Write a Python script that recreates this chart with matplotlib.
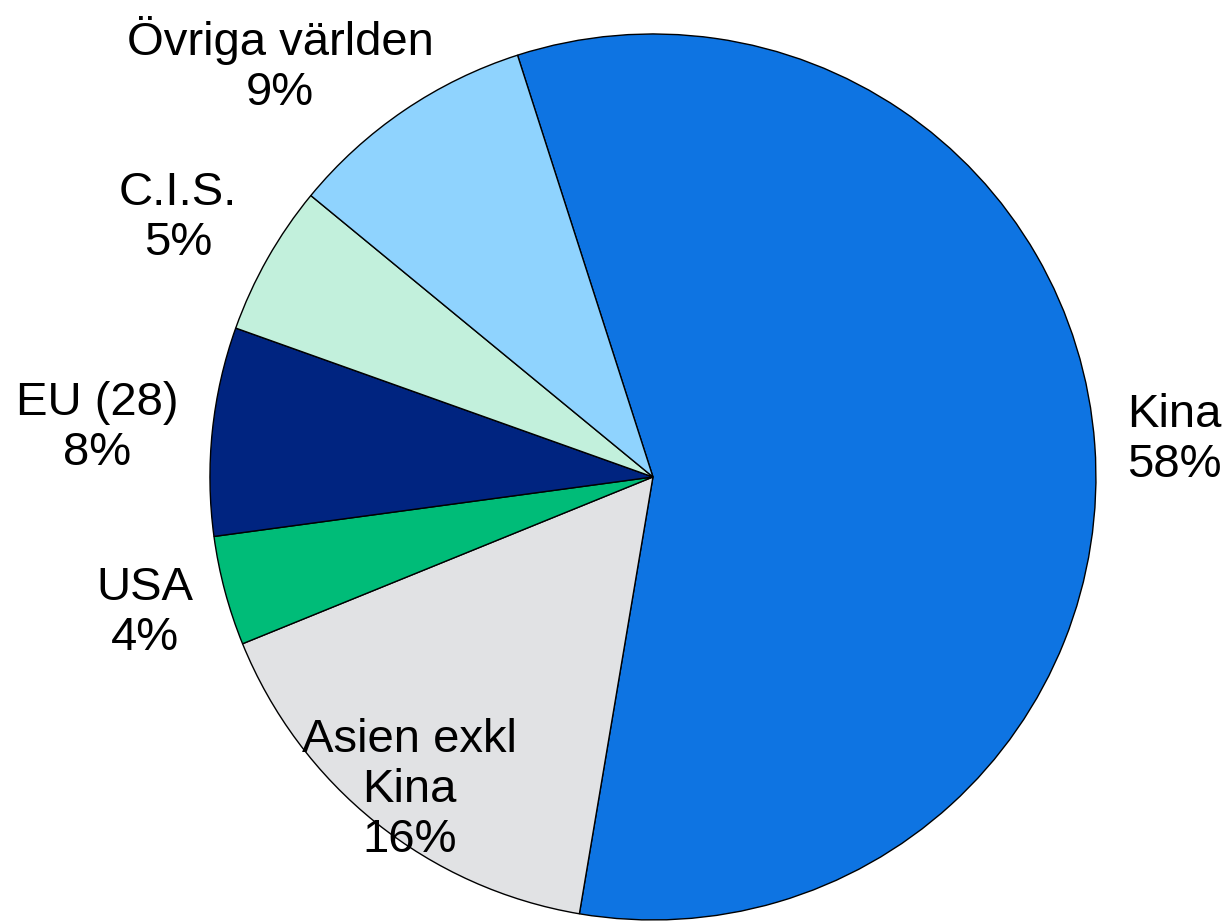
import matplotlib
matplotlib.use("Agg")
from matplotlib import pyplot as plt

plt.rcParams['font.family'] = ['Liberation Sans', 'DejaVu Sans']

# data (order: clockwise from the top)
regions = ["Kina", "Asien exkl\nKina", "USA", "EU (28)", "C.I.S.", "Övriga världen"]
shares = [57.6, 16.2, 4.0, 7.6, 5.5, 9.1]
shown_pct = ["58%", "16%", "4%", "8%", "5%", "9%"]
colors = ["#0E74E2", "#E1E2E4", "#00BC78", "#002480", "#C2F0DC", "#8FD3FE"]

# label centres in pie units (radius 1)
label_pos = [(1.178, 0.084), (-0.549, -0.707), (-1.147, -0.307),
             (-1.255, 0.111), (-1.072, 0.585), (-0.842, 0.928)]

fig = plt.figure(figsize=(12.3, 9.23), dpi=100)
ax = fig.add_axes([0.1707, 0.00325, 0.7203, 0.960])

ax.pie(shares, colors=colors, startangle=107.8, counterclock=False,
       wedgeprops=dict(edgecolor="black", linewidth=1.0))
ax.set_xlim(-1.0, 1.0)
ax.set_ylim(-1.0, 1.0)
ax.set_aspect("equal")
ax.axis("off")

for name, pct, (x, y) in zip(regions, shown_pct, label_pos):
    ax.text(x, y, name + "\n" + pct, ha="center", va="center",
            fontsize=34, linespacing=1.17, clip_on=False)

fig.savefig("out.png", dpi=100)
